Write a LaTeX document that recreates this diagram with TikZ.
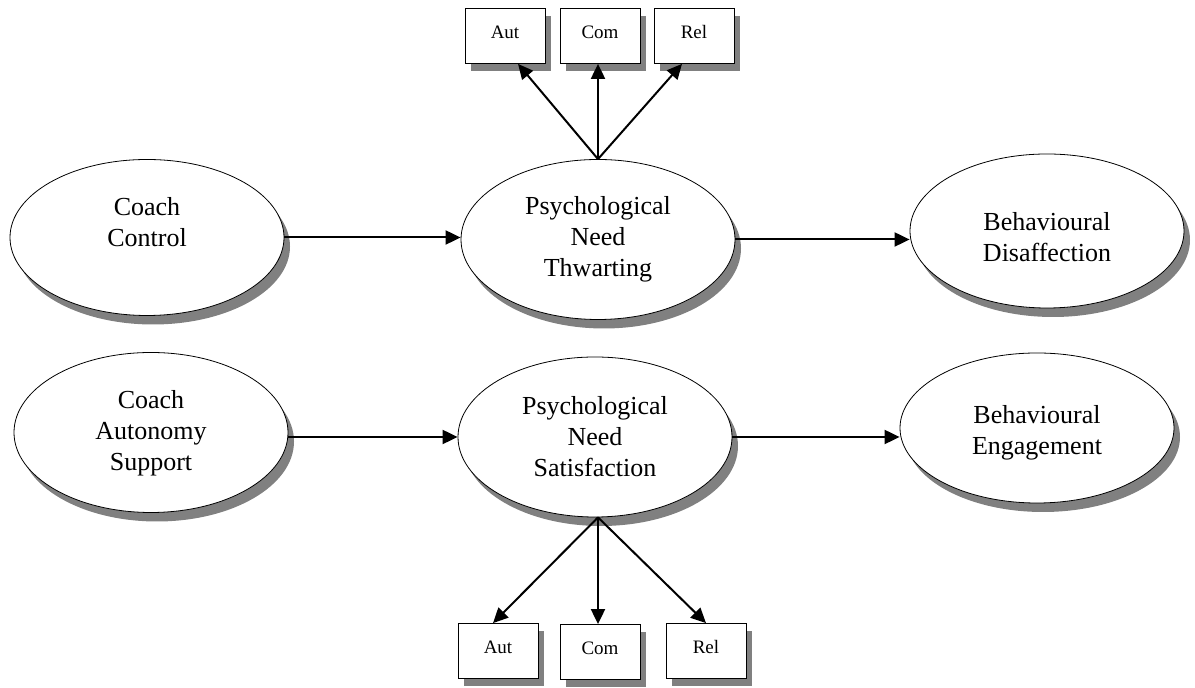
\documentclass[tikz,border=0pt]{standalone}
\usepackage{fontspec}
\setmainfont{Liberation Serif}
\usetikzlibrary{shapes.geometric,arrows.meta,shadows}

\tikzset{
  latent/.style={ellipse, draw, thin, fill=white, minimum width=137pt, minimum height=80pt,
    inner sep=0pt,
    drop shadow={shadow xshift=3pt, shadow yshift=-4.5pt, fill=black!50, opacity=1}},
  txt/.style={align=center, inner sep=0pt, font=\fontsize{13}{15.5}\selectfont},
  indic/.style={rectangle, draw, thin, fill=white, minimum width=40pt, minimum height=27.5pt,
    inner sep=0pt, text height=7pt, text depth=4pt, font=\fontsize{9.5}{11}\selectfont,
    drop shadow={shadow xshift=3pt, shadow yshift=-4pt, fill=black!50, opacity=1}},
  path/.style={-{Triangle[length=7.5pt,width=7pt]}, line width=1pt}
}

\begin{document}
\begin{tikzpicture}[x=0.5pt,y=-0.5pt]
                \useasboundingbox (0,0) rectangle (1195,688);

                % Top row: controlling path
                \node[latent, minimum height=78pt, label={[txt, yshift=7.5pt]center:{Coach\\Control}}] (ctrl) at (147,237.5) {};
                \node[latent, label={[txt]center:{Psychological\\Need\\Thwarting}}] (thw) at (598,239.5) {};
                \node[latent, minimum height=77pt, label={[txt, yshift=-3pt]center:{Behavioural\\Disaffection}}] (disaff) at (1047,231) {};

                % Bottom row: supportive path
                \node[latent, label={[txt, yshift=-0.5pt]center:{Coach\\Autonomy\\Support}}] (aut) at (151,432.5) {};
                \node[latent, label={[txt]center:{Psychological\\Need\\Satisfaction}}] (sat) at (595,437) {};
                \node[latent, minimum height=75pt, label={[txt, yshift=-2.5pt]center:{Behavioural\\Engagement}}] (eng) at (1037,428) {};
                \coordinate (satFoot) at ([xshift=1.5pt]sat.south);

                % Indicators of thwarting
                \node[indic] (tAut) at (505,36) {Aut};
                \node[indic] (tCom) at (600,36) {Com};
                \node[indic] (tRel) at (694,36) {Rel};

                % Indicators of satisfaction
                \node[indic] (sAut) at (498,651) {Aut};
                \node[indic] (sCom) at (600,652) {Com};
                \node[indic] (sRel) at (706,651) {Rel};

                % Structural paths
                \draw[path] (ctrl.east) -- (ctrl.east -| thw.west);
                \draw[path] (thw.east) -- (thw.east -| disaff.west);
                \draw[path] (sat.west -| aut.east) -- (sat.west);
                \draw[path] (sat.east) -- (sat.east -| eng.west);

                % Measurement paths
                \draw[path] (thw.north) -- ([xshift=6.5pt]tAut.south);
                \draw[path] (thw.north) -- ([xshift=-1pt]tCom.south);
                \draw[path] (thw.north) -- ([xshift=-6pt]tRel.south);
                \draw[path] (satFoot) -- ([xshift=-2.5pt]sAut.north);
                \draw[path] (satFoot) -- (satFoot |- sCom.north);
                \draw[path] (satFoot) -- (sRel.north);
\end{tikzpicture}
\end{document}
